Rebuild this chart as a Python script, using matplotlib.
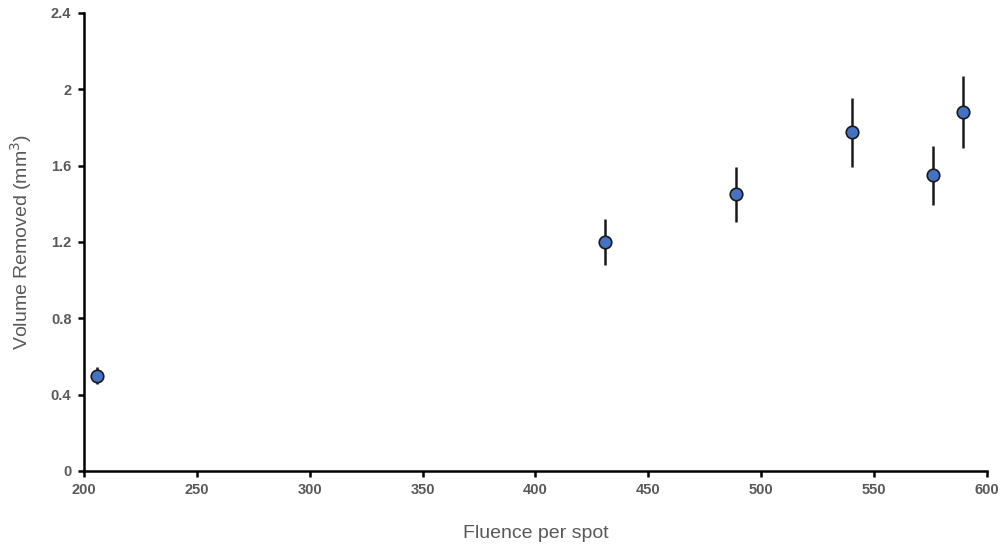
import numpy as np
import matplotlib.pyplot as plt

plt.rcParams['font.family'] = ['Liberation Sans', 'DejaVu Sans']

fluence = [205.8, 430.8, 488.8, 540.2, 576.1, 589.4]
volume = [0.50, 1.20, 1.45, 1.775, 1.55, 1.88]
err = [0.045, 0.12, 0.145, 0.18, 0.155, 0.19]

xticks = [200, 250, 300, 350, 400, 450, 500, 550, 600]
yticks = [0, 0.4, 0.8, 1.2, 1.6, 2.0, 2.4]
ytick_labels = ["0", "0.4", "0.8", "1.2", "1.6", "2", "2.4"]

fig = plt.figure(figsize=(10.02, 5.46), dpi=100)
ax = fig.add_axes([0.0838, 0.1374, 0.9012, 0.8388])

ax.errorbar(fluence, volume, yerr=err, fmt="o", color="#1a1a1a",
            ecolor="#1a1a1a", elinewidth=1.8, capsize=0,
            markerfacecolor="#4472C4", markeredgecolor="#1a1a1a",
            markeredgewidth=1.2, markersize=9, zorder=3)

ax.set_xlim(200, 600)
ax.set_ylim(0, 2.4)
ax.set_xticks(xticks)
ax.set_yticks(yticks)
ax.set_yticklabels(ytick_labels)

for s in ["top", "right"]:
    ax.spines[s].set_visible(False)
for s in ["left", "bottom"]:
    ax.spines[s].set_linewidth(1.8)
    ax.spines[s].set_color("black")

ax.tick_params(direction="out", length=4, width=1.8, color="black",
               labelsize=10.5, labelcolor="#595959", pad=5)
for lbl in ax.get_xticklabels() + ax.get_yticklabels():
    lbl.set_fontweight("bold")

ax.set_xlabel("Fluence per spot", fontsize=14, color="#595959", labelpad=20)
ax.set_ylabel("Volume Removed (mm$^3$)", fontsize=14, color="#595959", labelpad=12)

fig.savefig("out.png", dpi=100)
